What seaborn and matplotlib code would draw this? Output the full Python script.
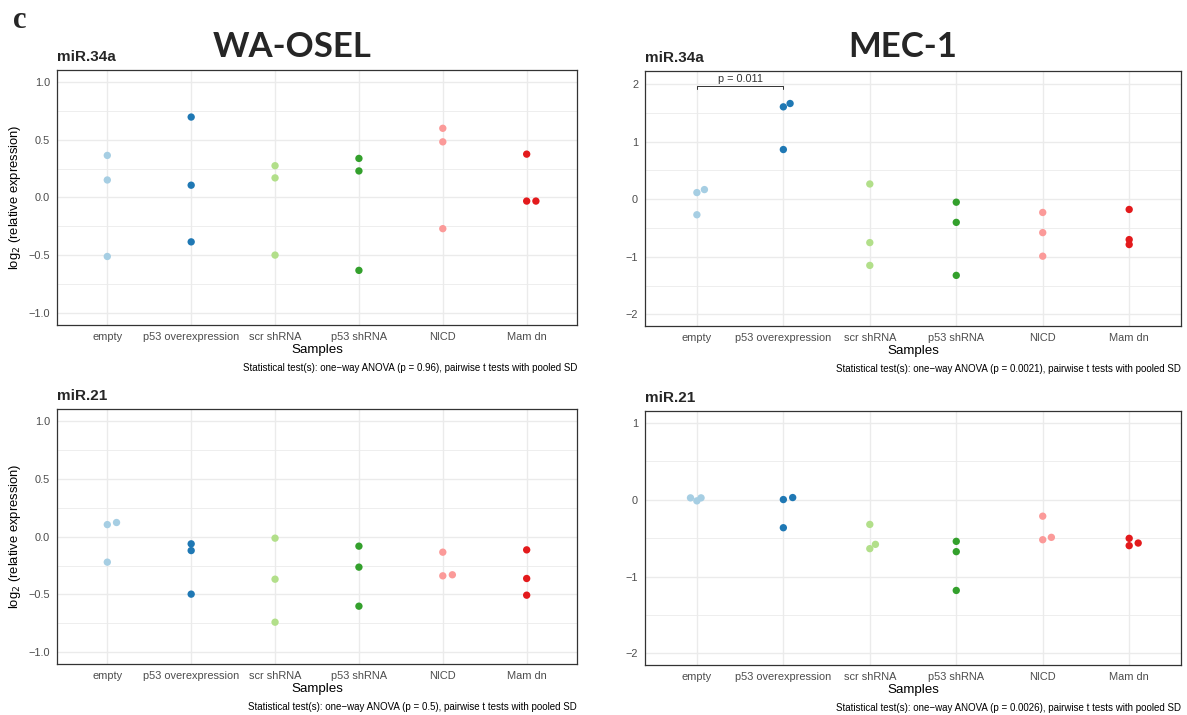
import numpy as np
import pandas as pd
import seaborn as sb
import matplotlib.pyplot as plt


# sample groups and colours (Paired palette)
samples = ["empty", "p53 overexpression", "scr shRNA", "p53 shRNA", "NICD", "Mam dn"]
colors = ["#A6CEE3", "#1F78B4", "#B2DF8A", "#33A02C", "#FB9A99", "#E31A1C"]

# log2 relative expression, 3 replicates per sample
wa_mir34a = [[0.363, 0.151, -0.509], [0.694, 0.106, -0.383], [0.274, 0.169, -0.497],
             [0.337, 0.229, -0.629], [0.597, 0.480, -0.269], [0.374, -0.031, -0.031]]
wa_mir34a_jit = [[0, 0, 0], [0, 0, 0], [0, 0, 0], [0, 0, 0], [0, 0, 0], [0, 0, 0.11]]

mec_mir34a = [[0.115, 0.167, -0.270], [1.603, 1.661, 0.862], [0.264, -0.753, -1.149],
              [-0.052, -0.402, -1.322], [-0.230, -0.580, -0.989], [-0.178, -0.701, -0.787]]
mec_mir34a_jit = [[0, 0.087, 0], [0, 0.078, 0], [0, 0, 0], [0, 0, 0], [0, 0, 0], [0, 0, 0]]

wa_mir21 = [[0.103, 0.121, -0.221], [-0.063, -0.121, -0.497], [-0.014, -0.368, -0.739],
            [-0.083, -0.264, -0.601], [-0.135, -0.339, -0.330], [-0.115, -0.362, -0.506]]
wa_mir21_jit = [[0, 0.11, 0], [0, 0, 0], [0, 0, 0], [0, 0, 0], [0, 0, 0.114], [0, 0, 0]]

mec_mir21 = [[0.022, -0.017, 0.022], [0.0, 0.026, -0.366], [-0.323, -0.638, -0.582],
             [-0.543, -0.677, -1.181], [-0.216, -0.522, -0.491], [-0.504, -0.599, -0.565]]
mec_mir21_jit = [[-0.074, 0, 0.048], [0, 0.108, 0], [0, 0, 0.065], [0, 0, 0], [0, 0, 0.1], [0, 0, 0.104]]

captions = ["Statistical test(s): one\u2212way ANOVA (p = 0.96), pairwise t tests with pooled SD",
            "Statistical test(s): one\u2212way ANOVA (p = 0.0021), pairwise t tests with pooled SD",
            "Statistical test(s): one\u2212way ANOVA (p = 0.5), pairwise t tests with pooled SD",
            "Statistical test(s): one\u2212way ANOVA (p = 0.0026), pairwise t tests with pooled SD"]

pair_label = "p = 0.011"
pair_y = 1.965

sb.set_theme(style="white")
plt.rcParams['font.family'] = ['Liberation Sans', 'DejaVu Sans']


def draw_panel(ax, values, jitter, title, caption, yticks, yminor, ylim, fmt, ylabel):
    rows = []
    for i, name in enumerate(samples):
        for v, j in zip(values[i], jitter[i]):
            rows.append({"sample": name, "pos": i + j, "value": v})
    oData = pd.DataFrame(rows)
    sb.scatterplot(data=oData, x="pos", y="value", hue="sample", hue_order=samples,
                   palette=colors, s=28, linewidth=0, legend=False, ax=ax, zorder=3)
    ax.set_xlim(-0.6, 5.6)
    ax.set_ylim(ylim)
    ax.set_xticks(range(len(samples)))
    ax.set_xticklabels(samples)
    ax.set_yticks(yticks)
    ax.set_yticklabels([fmt.format(t).replace("-", "\u2212") for t in yticks])
    ax.set_yticks(yminor, minor=True)
    ax.grid(which="major", color="#EBEBEB", lw=1.0)
    ax.grid(which="minor", axis="y", color="#EBEBEB", lw=0.6)
    ax.set_axisbelow(True)
    for s in ax.spines.values():
        s.set_color("#333333")
        s.set_linewidth(0.9)
    ax.tick_params(which="major", length=3, width=0.8, color="#333333",
                   labelcolor="#4D4D4D", labelsize=7.9, pad=2)
    ax.tick_params(which="minor", length=0)
    ax.set_xlabel("Samples", fontsize=9.6, labelpad=1.5, color="black")
    if ylabel:
        ax.set_ylabel(r"log$_2$ (relative expression)", fontsize=9.4, color="black")
        ax.yaxis.set_label_coords(-0.066, 0.5)
    else:
        ax.set_ylabel("")
    ax.text(0, 1.037, title, transform=ax.transAxes, ha="left", va="baseline",
            fontsize=11, fontweight="bold")
    ax.text(1, -0.17, caption, transform=ax.transAxes, ha="right", va="center",
            fontsize=7.0, color="black")


plt.figure(num=None, figsize=(11.87, 7.15), dpi=100, facecolor='w')
fig = plt.gcf()

axTL = fig.add_axes([0.0480, 0.5455, 0.4381, 0.3566])
axTR = fig.add_axes([0.5434, 0.5441, 0.4516, 0.3566])
axBL = fig.add_axes([0.0480, 0.0713, 0.4381, 0.3566])
axBR = fig.add_axes([0.5434, 0.0699, 0.4516, 0.3552])

draw_panel(axTL, wa_mir34a, wa_mir34a_jit, "miR.34a", captions[0],
           [-1.0, -0.5, 0.0, 0.5, 1.0], [-0.75, -0.25, 0.25, 0.75], (-1.1, 1.1), "{:.1f}", True)
draw_panel(axTR, mec_mir34a, mec_mir34a_jit, "miR.34a", captions[1],
           [-2, -1, 0, 1, 2], [-1.5, -0.5, 0.5, 1.5], (-2.2, 2.225), "{:.0f}", False)
draw_panel(axBL, wa_mir21, wa_mir21_jit, "miR.21", captions[2],
           [-1.0, -0.5, 0.0, 0.5, 1.0], [-0.75, -0.25, 0.25, 0.75], (-1.1, 1.1), "{:.1f}", True)
draw_panel(axBR, mec_mir21, mec_mir21_jit, "miR.21", captions[3],
           [-2, -1, 0, 1], [-1.5, -0.5, 0.5], (-2.15, 1.15), "{:.0f}", False)

# pairwise comparison bracket (empty vs p53 overexpression)
axTR.plot([0, 0, 1, 1], [pair_y - 0.05, pair_y, pair_y, pair_y - 0.05], color="#333333", lw=0.7)
axTR.text(0.5, pair_y + 0.03, pair_label, ha="center", va="bottom", fontsize=7.8, color="#333333")

# cell line headers and panel letter
fig.text(292 / 1187, 1 - 57 / 715, "WA-OSEL", ha="center", va="baseline",
         fontsize=25, fontweight="bold", family=["Lato", "DejaVu Sans"])
fig.text(903 / 1187, 1 - 57 / 715, "MEC-1", ha="center", va="baseline",
         fontsize=25, fontweight="bold", family=["Lato", "DejaVu Sans"])
fig.text(13 / 1187, 1 - 28 / 715, "c", ha="left", va="baseline",
         fontsize=22, fontweight="bold", family=["Liberation Serif", "DejaVu Serif"])

fig.savefig("out.png", dpi=100)
